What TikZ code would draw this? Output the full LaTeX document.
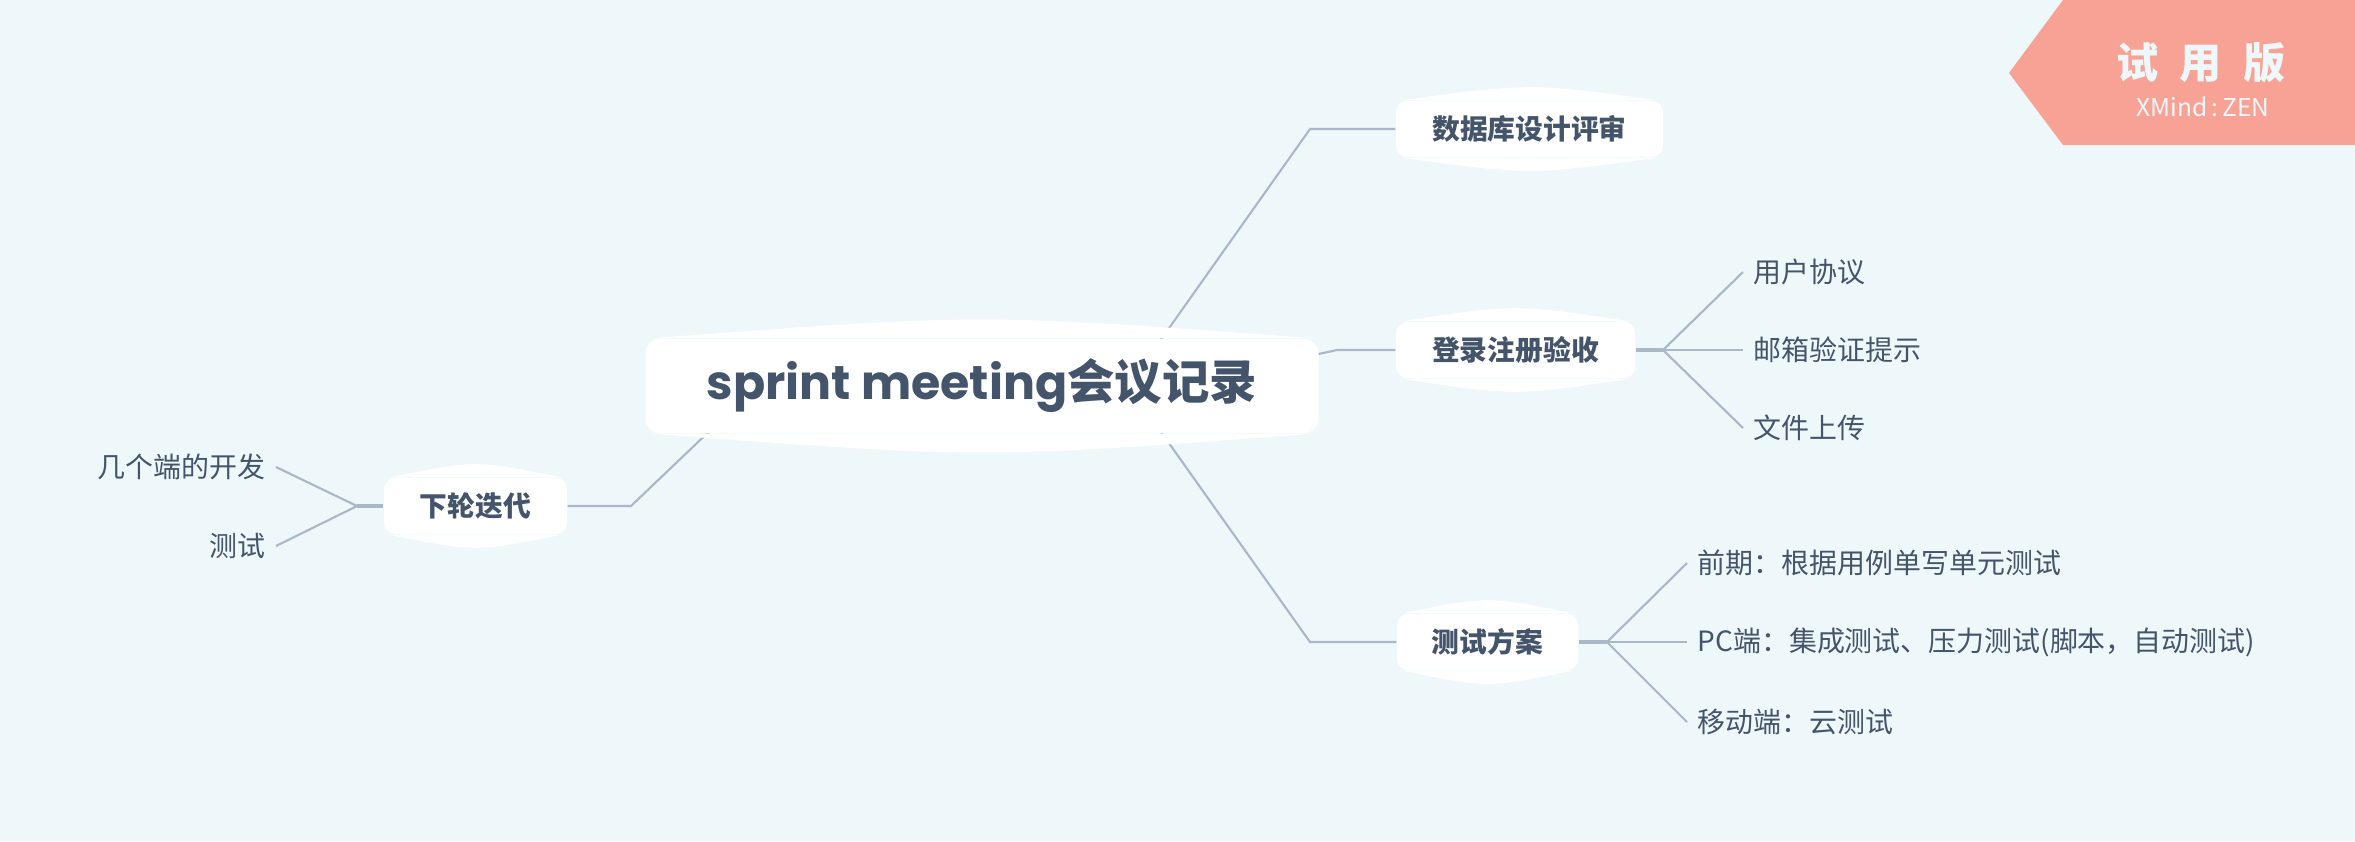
\documentclass[tikz,border=0pt]{standalone}
\usepackage{fontspec}
\setmainfont{Noto Sans CJK SC}
\newfontfamily\popfont{Poppins}
\usetikzlibrary{calc}

\definecolor{paper}{HTML}{EEF7FA}
\definecolor{ink}{HTML}{44546B}
\definecolor{wirecol}{HTML}{A9B7C8}
\definecolor{salmon}{HTML}{F7A295}

\pgfdeclarelayer{paperlayer}
\pgfdeclarelayer{wirelayer}
\pgfsetlayers{paperlayer,wirelayer,main}

% white lens caps on top and bottom of a topic box
\newcommand\bulge[2]{%
  \fill[white] ([xshift=0.6mm]#1.north west) .. controls ([yshift=#2]#1.north) .. ([xshift=-0.6mm]#1.north east) -- cycle;
  \fill[white] ([xshift=0.6mm]#1.south west) .. controls ([yshift=-#2]#1.south) .. ([xshift=-0.6mm]#1.south east) -- cycle;}

\begin{document}
\begin{tikzpicture}[
    x=0.1mm, y=-0.1mm,
    topic/.style={
      fill=white, rounded corners=1.1mm, text=ink,
      font=\bfseries\fontsize{7.9pt}{9pt}\selectfont,
      inner sep=0pt, minimum height=5.6mm
    },
    root/.style={
      topic, rounded corners=1.4mm,
      font=\bfseries\fontsize{13.5pt}{16pt}\selectfont,
      minimum width=67.3mm, minimum height=9.4mm
    },
    leaf/.style={
      text=ink, inner sep=1mm,
      font=\fontsize{7.95pt}{10pt}\selectfont
    },
    wire/.style={draw=wirecol, line width=0.6pt},
    trunk/.style={wire, line width=1.2pt}
  ]

  \begin{pgfonlayer}{paperlayer}
    \fill[paper] (0,0) rectangle (2355,841);
  \end{pgfonlayer}
  \useasboundingbox (0,0) rectangle (2355,841);

  % topics
  \node[root] (root) at (982,386) {{\popfont sprint meeting}会议记录};
  \node[topic, minimum width=26.7mm] (dbreview)  at (1529.5,129) {数据库设计评审};
  \node[topic, minimum width=23.9mm] (signup)    at (1515.5,350) {登录注册验收};
  \node[topic, minimum width=18.1mm] (testplan)  at (1487.5,642) {测试方案};
  \node[topic, minimum width=18.3mm] (nextround) at (475.5,506)  {下轮迭代};
  \bulge{root}{2.5mm}
  \bulge{dbreview}{1.75mm}
  \bulge{signup}{1.75mm}
  \bulge{testplan}{1.75mm}
  \bulge{nextround}{1.75mm}

  % leaves
  \node[leaf, anchor=west] (uagree)   at (1743,272) {用户协议};
  \node[leaf, anchor=west] (mailtip)  at (1743,350) {邮箱验证提示};
  \node[leaf, anchor=west] (upload)   at (1743,428) {文件上传};
  \node[leaf, anchor=west] (early)    at (1687,563) {前期：根据用例单写单元测试};
  \node[leaf, anchor=west] (pcside)   at (1687,642) {PC端：集成测试、压力测试(脚本，自动测试)};
  \node[leaf, anchor=west] (mobile)   at (1687,722) {移动端：云测试};
  \node[leaf, anchor=east] (multidev) at (276,467)  {几个端的开发};
  \node[leaf, anchor=east] (testing)  at (276,546)  {测试};

  % trial badge
  \fill[salmon] (2009,73) -- (2063,0) -- (2355,0) -- (2355,145) -- (2063,145) -- cycle;
  \node[text=paper, font=\bfseries\fontsize{12pt}{14pt}\selectfont] (trial) at (2201,63)
    {试\hspace{6pt}用\hspace{6pt}版};
  \node[text=paper, font=\fontsize{7pt}{8pt}\selectfont] (brand) at (2203,107) {XMind\,:\,ZEN};

  \coordinate (dbfoot) at (1150,355);
  \coordinate (sufoot) at (1300,358);
  \coordinate (tpfoot) at (1149,415);
  \coordinate (nrfoot) at (740,402);
  \coordinate (dbknee) at (1310,129);
  \coordinate (suknee) at (1337,350);
  \coordinate (tpknee) at (1310,642);
  \coordinate (nrknee) at (631,506);
  \coordinate (sufan)  at (1663,350);
  \coordinate (tpfan)  at (1607,642);
  \coordinate (nrfan)  at (357,506);

  \begin{pgfonlayer}{wirelayer}
    \draw[wire] (dbfoot) -- (dbknee) -- (dbreview.west);
    \draw[wire] (sufoot) -- (suknee) -- (signup.west);
    \draw[wire] (tpfoot) -- (tpknee) -- (testplan.west);
    \draw[wire] (nrfoot) -- (nrknee) -- (nextround.east);

    \draw[trunk] (signup.east) -- (sufan);
    \draw[wire] (sufan) -- (uagree.west);
    \draw[wire] (sufan) -- (mailtip.west);
    \draw[wire] (sufan) -- (upload.west);

    \draw[trunk] (testplan.east) -- (tpfan);
    \draw[wire] (tpfan) -- (early.west);
    \draw[wire] (tpfan) -- (pcside.west);
    \draw[wire] (tpfan) -- (mobile.west);

    \draw[trunk] (nextround.west) -- (nrfan);
    \draw[wire] (nrfan) -- (multidev.east);
    \draw[wire] (nrfan) -- (testing.east);
  \end{pgfonlayer}

\end{tikzpicture}
\end{document}
